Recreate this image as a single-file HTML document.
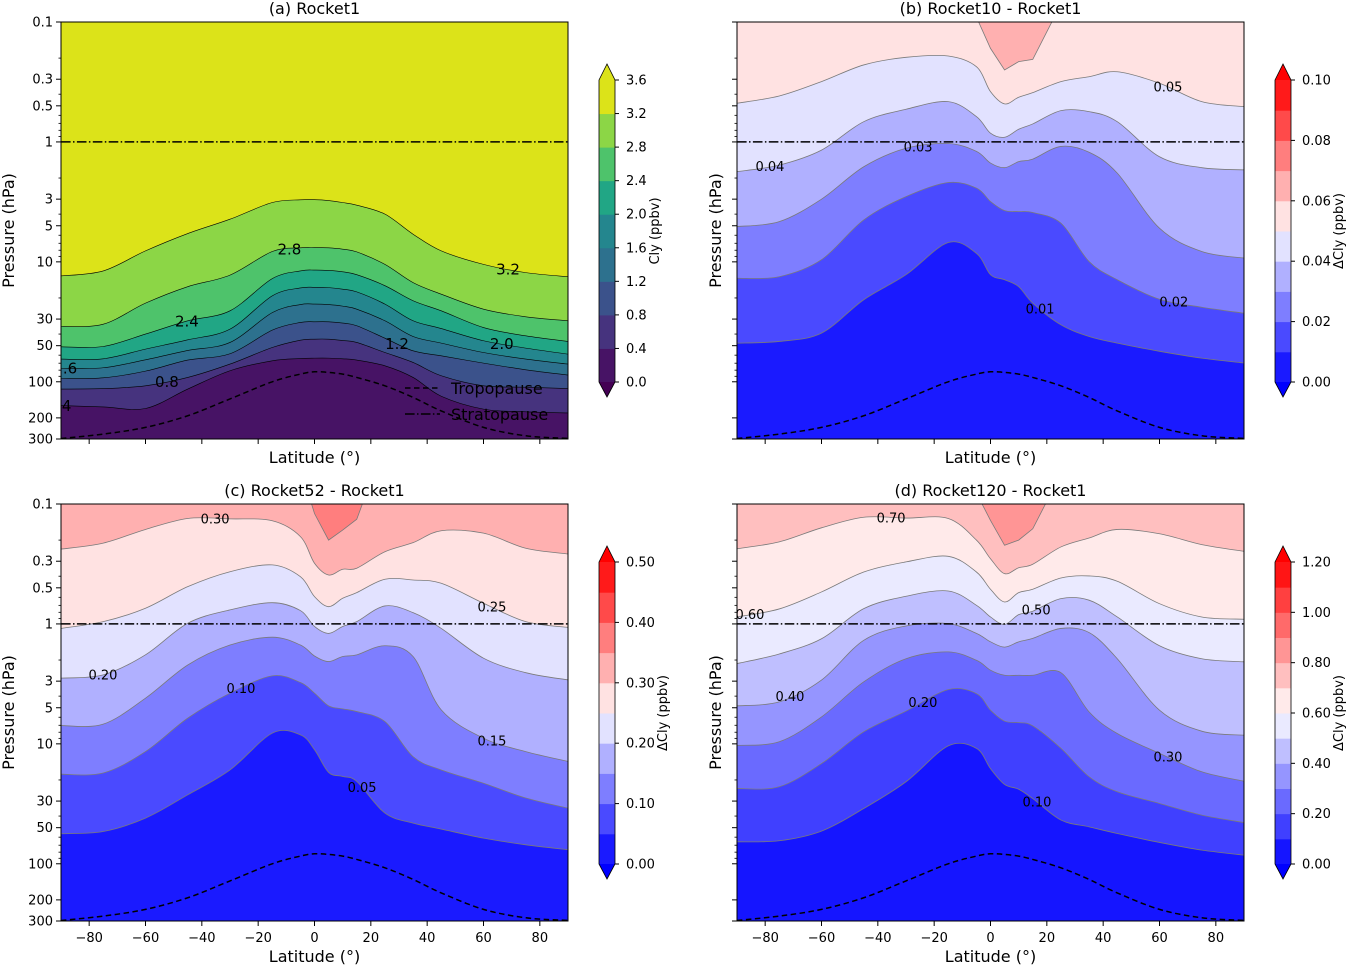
<!DOCTYPE html>
<html><head><meta charset="utf-8">
<style>
body{margin:0;background:#fff}
svg{display:block;font-family:"DejaVu Sans","Liberation Sans",sans-serif}
</style></head>
<body>
<svg id="fig" width="1351" height="966" viewBox="0 0 1351 966"></svg>
<script>
// ---------- shared data ----------
const lats = [-90,-75,-60,-45,-30,-15,-5,0,5,10,15,25,35,45,60,75,90];
const tropopauseP = [297,273,240,192,139,100,86.3,82.5,83.6,86.3,92,108,135,175,240,282,297];
const stratopauseP = 1;

// ---------- panel (a) Rocket1 ----------
const aLevels = [0.4,0.8,1.2,1.6,2.0,2.4,2.8,3.2];
const aP04 = [158,162,167,115,80.9,66.8,64,63.5,63.5,64.3,65.9,73.6,92,132,169,178,182];
const aP08 = [115,114,108,92,71.2,51.8,45.0,44.1,44.1,45.3,47.0,57.0,69.0,89.1,108,111,114];
const aP12 = [93.9,92.7,81.5,65.9,58.4,37.1,32.0,31.6,31.6,32.4,34.1,43.3,55.2,60.7,69.9,79.4,87.9];
const aP16 = [77.5,76.4,65.6,54.8,47.0,26.5,22.7,22.5,22.7,23.4,24.8,31.0,41.9,47.6,57.0,64.7,71.2];
const aP20 = [64.7,64.3,53.4,44.7,36.4,19.2,16.5,16.3,16.4,16.9,17.8,22.5,31.0,36.0,45.5,52.4,58.8];
const aP24 = [51.1,50.8,40.0,31.0,25.6,13.8,11.9,11.7,11.8,12.1,12.8,15.8,21.1,25.6,35.3,41.4,46.1];
const aP28 = [34.6,33.1,22.1,16.1,12.9,8.2,7.64,7.6,7.64,7.84,8.26,10.5,14.9,18.6,24.8,28.7,31.0];
const aP32 = [13.1,11.9,8.1,5.81,4.41,3.2,3.04,3.03,3.08,3.2,3.37,4.0,5.88,8.1,10.5,12.3,13.3];
const aCbarTicks = [0.0,0.4,0.8,1.2,1.6,2.0,2.4,2.8,3.2,3.6];
const aLabelText = ['2.8','3.2','2.4','1.2','2.0','.6','0.8','4'];
const aLabelLevel = [2.8,3.2,2.4,1.2,2.0,1.6,0.8,0.4];
const aLabelLat = [-8.9,68.7,-45.3,29.3,66.5,-86.8,-52.4,-88];

// ---------- panel (b) Rocket10 - Rocket1 ----------
const bLevels = [0.01,0.02,0.03,0.04,0.05,0.06];
const bP01 = [47.6,46.1,39.3,20.7,12.8,6.9,8.5,12.8,14.1,16.1,22.1,33.5,41.9,47.6,55.7,63.5,69.8];
const bP02 = [13.7,13.3,9.6,4.47,2.86,2.18,2.43,3.14,3.74,3.81,3.88,4.76,9.94,14.1,20.5,23.9,26.8];
const bP03 = [5.08,4.62,3.0,1.61,1.13,1.03,1.2,1.5,1.64,1.46,1.39,1.09,1.22,1.82,5.24,8.2,9.3];
const bP04 = [1.77,1.56,1.17,0.678,0.534,0.461,0.615,0.846,0.914,0.784,0.708,0.548,0.559,0.678,1.33,1.64,1.71];
const bP05 = [0.476,0.414,0.314,0.228,0.197,0.192,0.236,0.381,0.482,0.424,0.388,0.314,0.286,0.26,0.324,0.461,0.508];
const bP06 = [0.05,0.05,0.05,0.05,0.05,0.05,0.091,0.166,0.251,0.214,0.205,0.071,0.05,0.05,0.05,0.05,0.05];
const bCbarTicks = [0.00,0.02,0.04,0.06,0.08,0.10];
const bLabelText = ['0.05','0.03','0.04','0.01','0.02'];
const bLabelLevel = [0.05,0.03,0.04,0.01,0.02];
const bLabelLat = [63.0,-25.7,-78.3,17.6,65.1];

// ---------- panel (c) Rocket52 - Rocket1 ----------
const cLevels = [0.05,0.10,0.15,0.20,0.25,0.30,0.35];
const cP05 = [56.2,53.8,41.6,26.6,16.5,8.15,8.41,11.2,17.3,18.7,20.6,37.8,45.8,51.4,61.1,69.5,76.4];
const cP10 = [17.9,17.5,11.6,6.1,3.78,2.71,3.08,3.78,4.82,5.11,5.38,6.52,12.8,16.5,21.3,28.3,34.4];
const cP15 = [7.04,6.85,4.16,2.2,1.5,1.29,1.5,1.85,2.06,1.87,1.81,1.52,1.87,5.21,8.97,11.6,14.0];
const cP20 = [2.83,2.66,1.81,0.987,0.764,0.665,0.774,1.05,1.2,1.05,0.957,0.708,0.805,1.09,1.93,2.55,2.93];
const cP25 = [1.09,0.957,0.74,0.489,0.367,0.322,0.404,0.592,0.718,0.611,0.548,0.424,0.43,0.458,0.672,0.957,1.07];
const cP30 = [0.238,0.212,0.163,0.132,0.133,0.138,0.187,0.312,0.391,0.35,0.343,0.25,0.21,0.167,0.175,0.234,0.261];
const cP35 = [0.05,0.05,0.05,0.05,0.05,0.05,0.05,0.12,0.2,0.165,0.134,0.031,0.05,0.05,0.05,0.05,0.05];
const cCbarTicks = [0.00,0.10,0.20,0.30,0.40,0.50];
const cLabelText = ['0.30','0.25','0.20','0.10','0.15','0.05'];
const cLabelLevel = [0.30,0.25,0.20,0.10,0.15,0.05];
const cLabelLat = [-35.3,63.0,-75.1,-26.1,63.0,16.9];

// ---------- panel (d) Rocket120 - Rocket1 ----------
const dLevels = [0.1,0.2,0.3,0.4,0.5,0.6,0.7,0.8];
const dP01 = [65.6,64.3,53.4,34.6,20.7,10.4,10.9,16.1,21.8,23.9,28.6,43.2,49.2,55.9,66.4,76.9,84.7];
const dP02 = [23.6,22.8,14.6,7.94,5.34,3.53,3.81,5.24,6.47,6.65,7.08,10.9,18.8,25.1,31.4,39.3,45.3];
const dP03 = [10.3,9.6,5.96,3.04,1.95,1.71,2.01,2.43,2.68,2.68,2.68,2.55,5.41,8.2,12.0,17.1,20.5];
const dP04 = [4.82,4.47,2.94,1.37,1.04,0.994,1.2,1.41,1.56,1.41,1.32,1.09,1.18,1.95,5.24,7.84,8.47];
const dP05 = [2.14,1.78,1.33,0.746,0.588,0.531,0.699,0.875,1.01,0.837,0.784,0.615,0.634,0.875,1.52,1.95,2.07];
const dP06 = [0.875,0.75,0.541,0.369,0.304,0.273,0.369,0.514,0.656,0.548,0.514,0.414,0.398,0.441,0.678,0.875,0.914];
const dP07 = [0.236,0.207,0.158,0.129,0.131,0.132,0.2,0.286,0.381,0.34,0.318,0.228,0.192,0.163,0.177,0.218,0.248];
const dP08 = [0.05,0.05,0.05,0.05,0.05,0.05,0.081,0.137,0.221,0.2,0.161,0.056,0.05,0.05,0.05,0.05,0.05];
const dCbarTicks = [0.00,0.20,0.40,0.60,0.80,1.00,1.20];
const dLabelText = ['0.70','0.60','0.50','0.40','0.20','0.30','0.10'];
const dLabelLevel = [0.7,0.6,0.5,0.4,0.2,0.3,0.1];
const dLabelLat = [-35.3,-85.4,16.2,-71.2,-24.0,63.0,16.5];

// ---------- axis ticks ----------
const yMajor = [0.1,0.3,0.5,1,3,5,10,30,50,100,200,300];
const yMajorText = ['0.1','0.3','0.5','1','3','5','10','30','50','100','200','300'];
const yMinor = [0.2,0.4,0.6,0.7,0.8,0.9,2,4,6,7,8,9,20,40,60,70,80,90];
const xTicks = [-80,-60,-40,-20,0,20,40,60,80];

// ---------- styles ----------
const viridisColors = ['#471365','#46337e','#3b528b','#2d718e','#24868e','#21a685','#4ec36b','#8cd646','#dce319'];
const bwr10 = ['#1a1aff','#4a4aff','#7e7eff','#b0b0ff','#e2e2ff','#ffe2e2','#ffb0b0','#ff7e7e','#ff4a4a','#ff1a1a'];
const bwr12 = ['#1515ff','#4040ff','#6a6aff','#9595ff','#bfbfff','#eaeaff','#ffeaea','#ffbfbf','#ff9595','#ff6a6a','#ff4040','#ff1515'];

const NS = 'http://www.w3.org/2000/svg';
const svg = document.getElementById('fig');
const defs = document.createElementNS(NS,'defs');
svg.appendChild(defs);

function mk(tag, attrs, parent, name, inter){
  const e = document.createElementNS(NS, tag);
  for (const k in attrs) e.setAttribute(k, attrs[k]);
  
  
  (parent || svg).appendChild(e);
  return e;
}
function txt(str, x, y, size, parent, name, extra){
  const t = mk('text', Object.assign({x:x, y:y, 'font-size':size, fill:'#000'}, extra||{}), parent, name, false);
  t.textContent = str;
  return t;
}

const W = 507, H = 417, LR = Math.log10(300) + 1;

function smoothPath(pts){
  let d = 'M' + pts[0][0].toFixed(2) + ',' + pts[0][1].toFixed(2);
  for (let i = 0; i < pts.length - 1; i++){
    const p0 = pts[i-1] || pts[i], p1 = pts[i], p2 = pts[i+1], p3 = pts[i+2] || pts[i+1];
    const c1x = p1[0] + (p2[0]-p0[0])/6, c1y = p1[1] + (p2[1]-p0[1])/6;
    const c2x = p2[0] - (p3[0]-p1[0])/6, c2y = p2[1] - (p3[1]-p1[1])/6;
    d += ' C' + c1x.toFixed(2) + ',' + c1y.toFixed(2) + ' ' + c2x.toFixed(2) + ',' + c2y.toFixed(2) + ' ' + p2[0].toFixed(2) + ',' + p2[1].toFixed(2);
  }
  return d;
}
function linePath(pts){
  return 'M' + pts.map(p => p[0].toFixed(2) + ',' + p[1].toFixed(2)).join(' L');
}
function interpLogP(arr, lat){
  for (let i = 0; i < lats.length - 1; i++){
    if (lat >= lats[i] && lat <= lats[i+1]){
      const t = (lat - lats[i]) / (lats[i+1] - lats[i]);
      return Math.pow(10, Math.log10(arr[i]) * (1-t) + Math.log10(arr[i+1]) * t);
    }
  }
  return arr[lat < lats[0] ? 0 : arr.length-1];
}

function drawPanel(cfg){
  const x0 = cfg.x0, y0 = cfg.y0;
  const xs = lat => x0 + (lat + 90) / 180 * W;
  const ys = p => y0 + (Math.log10(p) + 1) / LR * H;
  const g = mk('g', {}, svg, cfg.id, false);

  const cp = document.createElementNS(NS, 'clipPath');
  cp.setAttribute('id', cfg.id + '-clip');
  const cr = document.createElementNS(NS, 'rect');
  cr.setAttribute('x', x0); cr.setAttribute('y', y0); cr.setAttribute('width', W); cr.setAttribute('height', H);
  cp.appendChild(cr); defs.appendChild(cp);

  const plot = mk('g', {'clip-path': 'url(#' + cfg.id + '-clip)'}, g, 'plot-area', false);
  mk('rect', {x:x0, y:y0, width:W, height:H, fill:cfg.colors[0]}, plot, 'band-base', false);

  cfg.bounds.forEach((arr, k) => {
    const pts = lats.map((la, i) => [xs(la), ys(arr[i])]);
    const isWedge = cfg.wedge && k === cfg.bounds.length - 1;
    const d = (isWedge ? linePath(pts) : smoothPath(pts)) + ' L' + (x0+W+5) + ',' + (y0-60) + ' L' + (x0-5) + ',' + (y0-60) + ' Z';
    mk('path', {d:d, fill:cfg.colors[k+1], stroke:'none'}, plot, 'band-above-' + cfg.levels[k], false);
  });
  cfg.bounds.forEach((arr, k) => {
    const pts = lats.map((la, i) => [xs(la), ys(arr[i])]);
    const isWedge = cfg.wedge && k === cfg.bounds.length - 1;
    mk('path', {d:(isWedge ? linePath(pts) : smoothPath(pts)), fill:'none', stroke:cfg.lineColor, 'stroke-width':cfg.lineWidth}, plot, 'contour-line-' + cfg.levels[k], false);
  });
  const tp = lats.map((la, i) => [xs(la), ys(tropopauseP[i])]);
  mk('path', {d:smoothPath(tp), fill:'none', stroke:'#000', 'stroke-width':1.5, 'stroke-dasharray':'5.5,3.5'}, plot, 'tropopause-line', false);
  mk('line', {x1:x0, x2:x0+W, y1:ys(stratopauseP), y2:ys(stratopauseP), stroke:'#000', 'stroke-width':1.5, 'stroke-dasharray':'9.6,2.4,1.5,2.4'}, plot, 'stratopause-line', false);

  cfg.labelText.forEach((s, i) => {
    const k = cfg.levels.indexOf(cfg.labelLevel[i]);
    const p = interpLogP(cfg.bounds[k], cfg.labelLat[i]);
    txt(s, xs(cfg.labelLat[i]), ys(p) + cfg.labelSize*0.35, cfg.labelSize, plot, 'contour-label-' + s, {'text-anchor':'middle'});
  });

  mk('rect', {x:x0, y:y0, width:W, height:H, fill:'none', stroke:'#000', 'stroke-width':1}, g, 'plot-frame', false);

  const yax = mk('g', {}, g, 'y-axis', false);
  yMajor.forEach((p, i) => {
    mk('line', {x1:x0-5, x2:x0, y1:ys(p), y2:ys(p), stroke:'#000', 'stroke-width':1}, yax, 'y-tick', false);
    if (cfg.yLabels) txt(yMajorText[i], x0-8, ys(p)+4.5, 13, yax, 'y-tick-label', {'text-anchor':'end'});
  });
  yMinor.forEach(p => {
    mk('line', {x1:x0-2.5, x2:x0, y1:ys(p), y2:ys(p), stroke:'#000', 'stroke-width':0.8}, yax, 'y-minor-tick', false);
  });
  txt('Pressure (hPa)', 0, 0, 16, yax, 'y-axis-title', {'text-anchor':'middle', transform:'translate(' + (cfg.yLabels ? x0-47 : x0-16) + ',' + (y0+H/2) + ') rotate(-90)'});

  const xax = mk('g', {}, g, 'x-axis', false);
  xTicks.forEach(v => {
    mk('line', {x1:xs(v), x2:xs(v), y1:y0+H, y2:y0+H+5, stroke:'#000', 'stroke-width':1}, xax, 'x-tick', false);
    if (cfg.xLabels) txt((v < 0 ? '\u2212' + (-v) : String(v)), xs(v), y0+H+21, 13, xax, 'x-tick-label', {'text-anchor':'middle'});
  });
  txt('Latitude (\u00b0)', x0+W/2, cfg.xLabels ? y0+H+41 : y0+H+24, 16, xax, 'x-axis-title', {'text-anchor':'middle'});

  txt(cfg.title, x0+W/2, y0-8, 16, g, 'panel-title', {'text-anchor':'middle'});

  const cb = mk('g', {}, g, 'colorbar', false);
  const cx = x0 + 538, cw = 16, cTop = y0 + 58, cBot = y0 + 360;
  const tmin = cfg.cbarTicks[0], tmax = cfg.cbarTicks[cfg.cbarTicks.length-1];
  const cy = v => cBot - (v - tmin) / (tmax - tmin) * (cBot - cTop);
  const step = cfg.cbarStep;
  const nb = Math.round((tmax - tmin) / step);
  for (let i = 0; i < nb; i++){
    mk('rect', {x:cx, y:cy(tmin + (i+1)*step), width:cw, height:cy(tmin + i*step) - cy(tmin + (i+1)*step) + 0.5, fill:cfg.cbarColors[i]}, cb, 'colorbar-band', false);
  }
  mk('path', {d:'M'+cx+','+cTop+' L'+(cx+cw/2)+','+(cTop-16)+' L'+(cx+cw)+','+cTop+' Z', fill:cfg.overColor}, cb, 'colorbar-extend-max', false);
  mk('path', {d:'M'+cx+','+cBot+' L'+(cx+cw/2)+','+(cBot+15)+' L'+(cx+cw)+','+cBot+' Z', fill:cfg.underColor}, cb, 'colorbar-extend-min', false);
  mk('path', {d:'M'+cx+','+cTop+' L'+(cx+cw/2)+','+(cTop-16)+' L'+(cx+cw)+','+cTop+' L'+(cx+cw)+','+cBot+' L'+(cx+cw/2)+','+(cBot+15)+' L'+cx+','+cBot+' Z', fill:'none', stroke:'#000', 'stroke-width':0.8}, cb, 'colorbar-outline', false);
  cfg.cbarTicks.forEach(v => {
    mk('line', {x1:cx+cw, x2:cx+cw+4, y1:cy(v), y2:cy(v), stroke:'#000', 'stroke-width':1}, cb, 'colorbar-tick', false);
    txt(v.toFixed(cfg.cbarDigits), cx+cw+11, cy(v)+4.5, 13, cb, 'colorbar-tick-label', {});
  });
  txt(cfg.cbarTitle, 0, 0, 13, cb, 'colorbar-title', {'text-anchor':'middle', transform:'translate(' + (cx + cfg.cbarTitleDx) + ',' + (y0+209) + ') rotate(-90)'});
  return {g, xs, ys};
}

const pa = drawPanel({id:'panel-a', x0:61, y0:22, title:'(a) Rocket1', levels:aLevels,
  bounds:[aP04,aP08,aP12,aP16,aP20,aP24,aP28,aP32], colors:viridisColors, wedge:false,
  lineColor:'#000', lineWidth:0.6, labelText:aLabelText, labelLevel:aLabelLevel, labelLat:aLabelLat, labelSize:15,
  yLabels:true, xLabels:false, cbarTicks:aCbarTicks, cbarStep:0.4, cbarColors:viridisColors,
  overColor:'#dce319', underColor:'#440154', cbarDigits:1, cbarTitle:'Cly (ppbv)', cbarTitleDx:60});
drawPanel({id:'panel-b', x0:737, y0:22, title:'(b) Rocket10 - Rocket1', levels:bLevels,
  bounds:[bP01,bP02,bP03,bP04,bP05,bP06], colors:bwr10, wedge:true,
  lineColor:'#7a7a7a', lineWidth:0.8, labelText:bLabelText, labelLevel:bLabelLevel, labelLat:bLabelLat, labelSize:13,
  yLabels:false, xLabels:false, cbarTicks:bCbarTicks, cbarStep:0.01, cbarColors:bwr10,
  overColor:'#ff0000', underColor:'#0000ff', cbarDigits:2, cbarTitle:'\u0394Cly (ppbv)', cbarTitleDx:68});
drawPanel({id:'panel-c', x0:61, y0:504, title:'(c) Rocket52 - Rocket1', levels:cLevels,
  bounds:[cP05,cP10,cP15,cP20,cP25,cP30,cP35], colors:bwr10, wedge:true,
  lineColor:'#7a7a7a', lineWidth:0.8, labelText:cLabelText, labelLevel:cLabelLevel, labelLat:cLabelLat, labelSize:13,
  yLabels:true, xLabels:true, cbarTicks:cCbarTicks, cbarStep:0.05, cbarColors:bwr10,
  overColor:'#ff0000', underColor:'#0000ff', cbarDigits:2, cbarTitle:'\u0394Cly (ppbv)', cbarTitleDx:68});
drawPanel({id:'panel-d', x0:737, y0:504, title:'(d) Rocket120 - Rocket1', levels:dLevels,
  bounds:[dP01,dP02,dP03,dP04,dP05,dP06,dP07,dP08], colors:bwr12, wedge:true,
  lineColor:'#7a7a7a', lineWidth:0.8, labelText:dLabelText, labelLevel:dLabelLevel, labelLat:dLabelLat, labelSize:13,
  yLabels:false, xLabels:true, cbarTicks:dCbarTicks, cbarStep:0.1, cbarColors:bwr12,
  overColor:'#ff0000', underColor:'#0000ff', cbarDigits:2, cbarTitle:'\u0394Cly (ppbv)', cbarTitleDx:68});

const lg = mk('g', {}, pa.g, 'legend', false);
mk('line', {x1:405, x2:440, y1:388, y2:388, stroke:'#000', 'stroke-width':1.5, 'stroke-dasharray':'5.5,3.5'}, lg, 'legend-tropopause-swatch', false);
txt('Tropopause', 451, 394, 16, lg, 'legend-tropopause-label', {});
mk('line', {x1:405, x2:440, y1:414, y2:414, stroke:'#000', 'stroke-width':1.5, 'stroke-dasharray':'9.6,2.4,1.5,2.4'}, lg, 'legend-stratopause-swatch', false);
txt('Stratopause', 451, 420, 16, lg, 'legend-stratopause-label', {});
</script>
</body></html>
